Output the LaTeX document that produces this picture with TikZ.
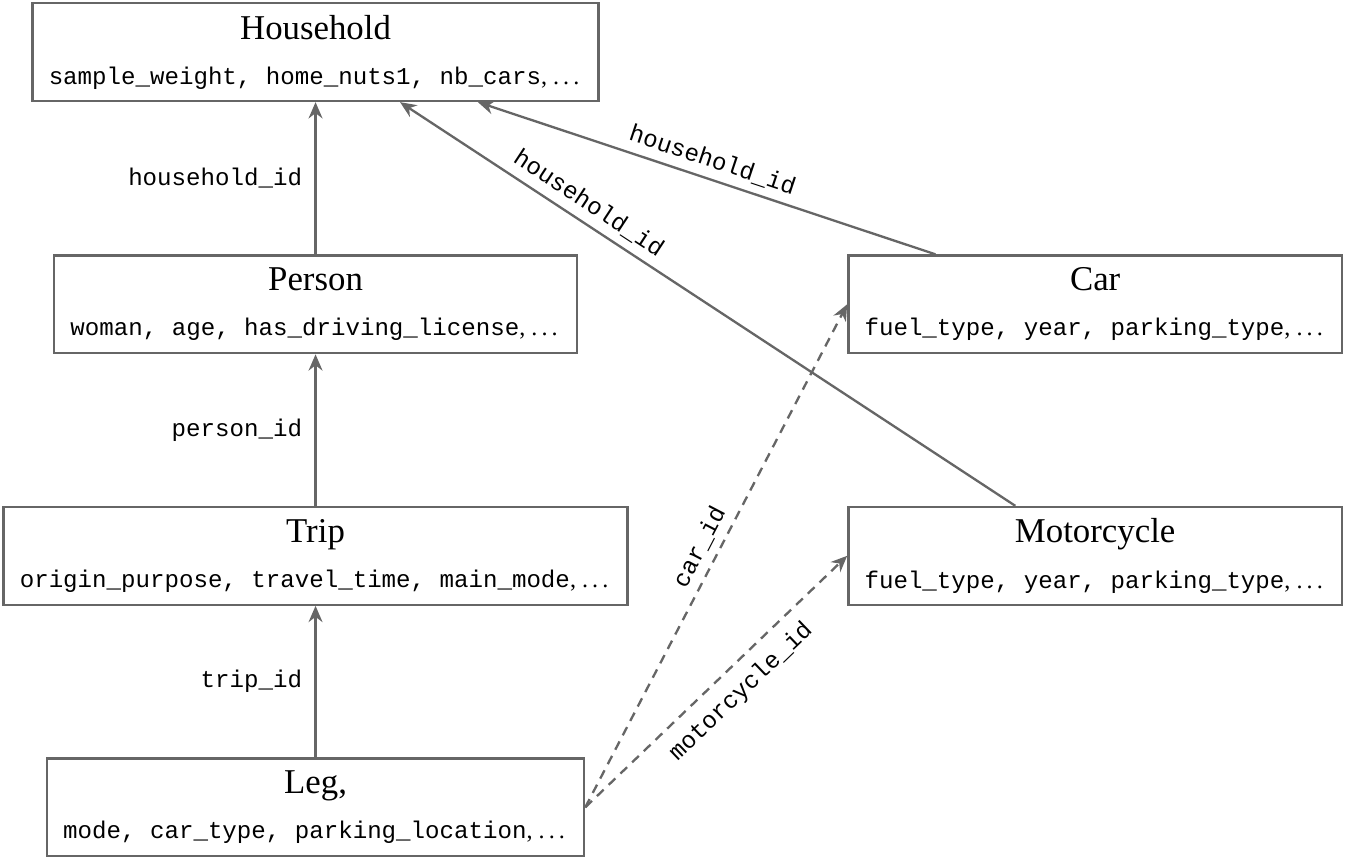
\documentclass[tikz,border=0pt]{standalone}
\usepackage{fontspec}
\setmainfont{Liberation Serif}
\setmonofont{Liberation Mono}
\usepackage{xcolor}
\usetikzlibrary{arrows.meta, positioning}

\newcommand{\moredots}{.\kern.17em.\kern.17em.\kern.12em}

\begin{document}
\begin{tikzpicture}[>={Stealth[length=7pt, width=6pt]},
  tbl/.style = {rectangle, draw=black!60, line width=1pt, align=center,
                font=\fontsize{10.4}{19.5}\selectfont, inner xsep=7pt,
                minimum height=1.48cm},
  fk/.style  = {->, draw=black!60, line width=1pt},
  opt/.style = {fk, dash pattern=on 4pt off 3pt},
  lbl/.style = {font=\ttfamily\fontsize{10.4}{12}\selectfont, text=black}
]
\useasboundingbox (0,0) rectangle (20.39,-13.05);

%% --- Tables ---
\node[tbl] (household) at (4.78,-0.79)
  {{\fontsize{15}{19.5}\selectfont Household}\\
   \texttt{sample\_weight, home\_nuts1, nb\_cars}, \moredots};
\node[tbl] (person) at (4.78,-4.61)
  {{\fontsize{15}{19.5}\selectfont Person}\\
   \texttt{woman, age, has\_driving\_license}, \moredots};
\node[tbl] (trip) at (4.78,-8.42)
  {{\fontsize{15}{19.5}\selectfont Trip}\\
   \texttt{origin\_purpose, travel\_time, main\_mode}, \moredots};
\node[tbl] (leg) at (4.78,-12.23)
  {{\fontsize{15}{19.5}\selectfont Leg,}\\
   \texttt{mode, car\_type, parking\_location}, \moredots};
\node[tbl] (car) at (16.59,-4.61)
  {{\fontsize{15}{19.5}\selectfont Car}\\
   \texttt{fuel\_type, year, parking\_type}, \moredots};
\node[tbl] (moto) at (16.59,-8.42)
  {{\fontsize{15}{19.5}\selectfont Motorcycle}\\
   \texttt{fuel\_type, year, parking\_type}, \moredots};

%% --- Main chain ---
\draw[fk] (person.north) -- (household.south)
  node[lbl, midway, left=2pt] {household\_id};
\draw[fk] (trip.north) -- (person.south)
  node[lbl, midway, left=2pt] {person\_id};
\draw[fk] (leg.north) -- (trip.south)
  node[lbl, midway, left=2pt] {trip\_id};

%% --- Vehicles to household ---
\draw[fk] ([xshift=-2.42cm]car.north) -- ([xshift=2.46cm]household.south)
  node[lbl, pos=0.5, sloped, above] {household\_id};
\draw[fk] ([xshift=-1.21cm]moto.north) -- ([xshift=1.28cm]household.south)
  node[lbl, pos=0.71, sloped, above] {household\_id};

%% --- Optional links from leg ---
\draw[opt] (leg.east) -- (car.west)
  node[lbl, pos=0.5, sloped, above] {car\_id};
\draw[opt] (leg.east) -- (moto.west)
  node[lbl, pos=0.53, sloped, below=2pt] {motorcycle\_id};
\end{tikzpicture}
\end{document}
